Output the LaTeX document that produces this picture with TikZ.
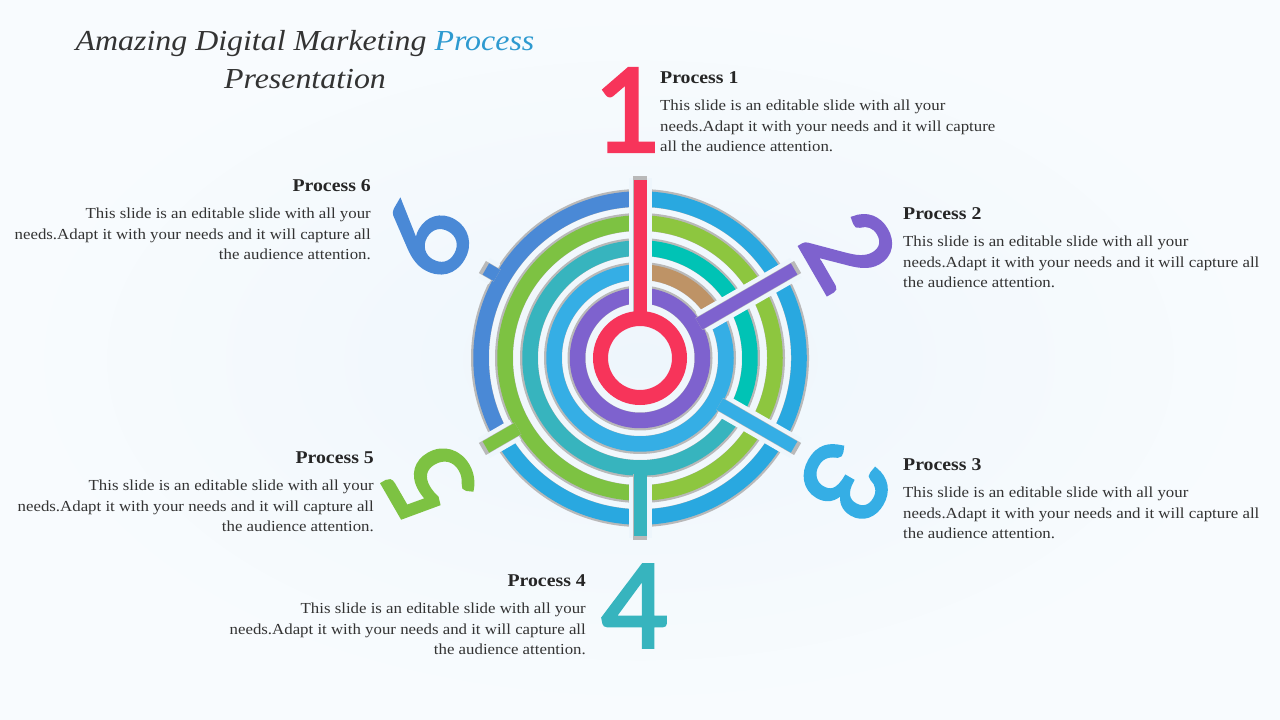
\documentclass[tikz,border=0pt]{standalone}
\usepackage{fontspec}
\usetikzlibrary{calc}
\setmainfont{Liberation Serif}[FakeStretch=1.1]
\newfontfamily\digitfont{Lato}[FakeBold=3]
\begin{document}
\begin{tikzpicture}[x=1pt,y=1pt,
  head/.style={font=\fontsize{18}{20}\selectfont\bfseries, text=black!85, inner sep=0pt},
  body/.style={font=\fontsize{15.3}{20.5}\selectfont, text=black!80, inner sep=0pt},
  digit/.style={font=\digitfont\fontsize{115}{115}\selectfont, inner sep=0pt}]
\definecolor{bg}{HTML}{EEF6FC}
\definecolor{cred}{HTML}{F7345A}
\definecolor{cpur}{HTML}{7E62CE}
\definecolor{clb}{HTML}{35AEE5}
\definecolor{cbr}{HTML}{BE9366}
\definecolor{cteal}{HTML}{37B4BE}
\definecolor{ctg}{HTML}{00C3B5}
\definecolor{cg1}{HTML}{8DC63F}
\definecolor{cg2}{HTML}{7DC242}
\definecolor{cdb}{HTML}{4A89D6}
\definecolor{cob}{HTML}{29A8E0}
\definecolor{ctitle}{HTML}{2E9AD0}
\useasboundingbox (0,0) rectangle (1280,720);
\shade[inner color=bg, outer color=white!60!bg] (0,0) rectangle (1280,720);
\coordinate (C) at (640,362);
\newcommand\ringarc[4]{%
  \draw[gray!55, line width=18pt] ($(C)+(#3:#2+1)$) arc[start angle=#3, end angle=#4, radius=#2+1];
  \draw[#1, line width=15.5pt] ($(C)+(#3:#2)$) arc[start angle=#3, end angle=#4, radius=#2];}
\newcommand\spoke[3]{%
  \draw[bg, line width=23pt] ($(C)+(#2:#3+1)$) -- ($(C)+(#2:180)$);
  \draw[gray!55, line width=14pt] ($(C)+(#2:#3-2)$) -- ($(C)+(#2:182)$);
  \draw[#1, line width=13pt] ($(C)+(#2:#3-2)$) -- ($(C)+(#2:178)$);}
% rings
\ringarc{cob}{159}{210}{450}
\ringarc{cdb}{159}{90}{210}
\ringarc{cg1}{135}{-90}{90}
\ringarc{cg2}{135}{90}{270}
\ringarc{ctg}{110}{-30}{90}
\ringarc{cteal}{110}{90}{330}
\ringarc{clb}{86}{90}{390}
\ringarc{cbr}{86}{30}{90}
\ringarc{cpur}{62.5}{0}{360}
% spokes
\spoke{cdb}{150}{167}
\spoke{cg2}{210}{143}
\spoke{cteal}{-90}{118}
\spoke{clb}{-30}{94}
\spoke{cpur}{30}{70}
\spoke{cred}{90}{47}
\draw[cred, line width=15pt] (C) circle[radius=39.5];
\node (cc) at (C) {};
% numerals
\node[digit, text=cred] (n1) at (628,610) {1};
\node[digit, text=cpur, rotate=-60] (n2) at (850,470) {2};
\node[digit, text=clb, rotate=-120] (n3) at (846,238) {3};
\node[digit, text=cteal] (n4) at (635,114) {4};
\node[digit, text=cg2, rotate=120] (n5) at (430,237) {5};
\node[digit, text=cdb, rotate=60] (n6) at (427,482) {6};
% title
\node[font=\fontsize{29}{38}\selectfont\itshape, text=black!80, align=center, inner sep=0pt] (title) at (305,660)
  {Amazing Digital Marketing \textcolor{ctitle}{Process}\\Presentation};
% texts
\node[head, anchor=west] (h1) at (660,642) {Process 1};
\node[body, anchor=north west, align=left] (b1) at (660,620) {This slide is an editable slide with all your\\needs.Adapt it with your needs and it will capture\\all the audience attention.};
\node[head, anchor=west] (h2) at (903,506) {Process 2};
\node[body, anchor=north west, align=left] (b2) at (903,484) {This slide is an editable slide with all your\\needs.Adapt it with your needs and it will capture all\\the audience attention.};
\node[head, anchor=west] (h3) at (903,255) {Process 3};
\node[body, anchor=north west, align=left] (b3) at (903,233) {This slide is an editable slide with all your\\needs.Adapt it with your needs and it will capture all\\the audience attention.};
\node[head, anchor=east] (h4) at (586,139) {Process 4};
\node[body, anchor=north east, align=right] (b4) at (586,117) {This slide is an editable slide with all your\\needs.Adapt it with your needs and it will capture all\\the audience attention.};
\node[head, anchor=east] (h5) at (374,262) {Process 5};
\node[body, anchor=north east, align=right] (b5) at (374,240) {This slide is an editable slide with all your\\needs.Adapt it with your needs and it will capture all\\the audience attention.};
\node[head, anchor=east] (h6) at (371,534) {Process 6};
\node[body, anchor=north east, align=right] (b6) at (371,512) {This slide is an editable slide with all your\\needs.Adapt it with your needs and it will capture all\\the audience attention.};
\end{tikzpicture}
\end{document}
